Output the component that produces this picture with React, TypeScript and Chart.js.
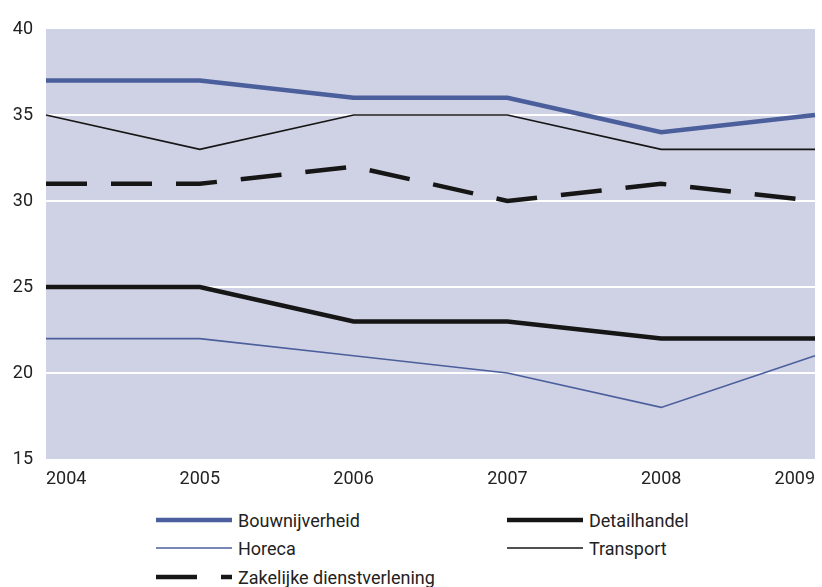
import React, { useEffect, useRef } from "react";
import { Chart, registerables } from "chart.js";

Chart.register(...registerables);

const years = ["2004", "2005", "2006", "2007", "2008", "2009"];
const bouwnijverheid = [37, 37, 36, 36, 34, 35];
const detailhandel = [25, 25, 23, 23, 22, 22];
const horeca = [22, 22, 21, 20, 18, 21];
const transport = [35, 33, 35, 35, 33, 33];
const zakelijke = [31, 31, 32, 30, 31, 30];

const BLUE = "#4b5f9c";
const BLACK = "#161616";
const FONT = "Roboto, 'Liberation Sans', Arial, sans-serif";

type Series = { label: string; data: number[]; color: string; width: number; dash: number[] };

const series: Series[] = [
  { label: "Bouwnijverheid", data: bouwnijverheid, color: BLUE, width: 4.5, dash: [] },
  { label: "Detailhandel", data: detailhandel, color: BLACK, width: 4.5, dash: [] },
  { label: "Horeca", data: horeca, color: BLUE, width: 1.6, dash: [] },
  { label: "Transport", data: transport, color: BLACK, width: 1.6, dash: [] },
  { label: "Zakelijke dienstverlening", data: zakelijke, color: BLACK, width: 4.5, dash: [41, 24] },
];

const bgPlugin = {
  id: "plotBg",
  beforeDraw(chart: any) {
    const { ctx, chartArea } = chart;
    if (!chartArea) return;
    ctx.save();
    ctx.fillStyle = "#cfd2e4";
    ctx.fillRect(chartArea.left, chartArea.top, chartArea.right - chartArea.left, chartArea.bottom - chartArea.top);
    ctx.restore();
  },
};

export default function App() {
  const ref = useRef<HTMLCanvasElement | null>(null);

  useEffect(() => {
    if (!ref.current) return;
    const chart = new Chart(ref.current, {
      type: "line",
      data: {
        labels: years,
        datasets: series.map((s) => ({
          label: s.label,
          data: s.data,
          borderColor: s.color,
          backgroundColor: s.color,
          borderWidth: s.width,
          borderDash: s.dash,
          pointRadius: 0,
          tension: 0,
          fill: false,
          borderCapStyle: "butt" as const,
          borderJoinStyle: "miter" as const,
        })),
      },
      options: {
        animation: false,
        responsive: false,
        maintainAspectRatio: false,
        layout: { padding: { top: 29, left: 13, right: 7, bottom: 11 } },
        plugins: { legend: { display: false }, tooltip: { enabled: false } },
        scales: {
          x: {
            type: "category",
            offset: false,
            grid: { display: false, drawTicks: false },
            border: { display: false },
            afterFit: (s: any) => {
              s.height = 30;
              s.paddingLeft = 0;
              s.paddingRight = 0;
            },
            ticks: {
              align: "inner",
              color: "#222",
              padding: 10,
              maxRotation: 0,
              autoSkip: false,
              font: { family: FONT, size: 18 },
            },
          },
          y: {
            min: 15,
            max: 40,
            afterFit: (s: any) => {
              s.width = 33;
            },
            grid: {
              drawTicks: false,
              color: (c: any) => (c.tick && (c.tick.value === 15 || c.tick.value === 40) ? "rgba(0,0,0,0)" : "#ffffff"),
              lineWidth: 2,
            },
            border: { display: false },
            ticks: {
              stepSize: 5,
              color: "#222",
              padding: 13,
              font: { family: FONT, size: 18 },
            },
          },
        },
      },
      plugins: [bgPlugin],
    });
    return () => chart.destroy();
  }, []);

  const legendPos = [
    { x: 156, y: 520 },
    { x: 507, y: 520 },
    { x: 156, y: 548 },
    { x: 507, y: 548 },
    { x: 156, y: 577 },
  ];

  return (
    <div style={{ position: "fixed", left: 0, top: 0, width: 822, height: 587, background: "#fff", overflow: "hidden" }}>
      <canvas ref={ref} width={822} height={500} style={{ position: "absolute", left: 0, top: 0, width: 822, height: 500 }} />
      {series.map((s, i) => (
        <div
          key={s.label}
          style={{
            position: "absolute",
            left: legendPos[i].x,
            top: legendPos[i].y - 12,
            height: 24,
            display: "flex",
            alignItems: "center",
            fontFamily: FONT,
            fontSize: 18,
            color: "#222",
            whiteSpace: "nowrap",
          }}
        >
          <svg width={76} height={8} style={{ display: "block", marginRight: 6 }}>
            <line
              x1={0}
              y1={4}
              x2={76}
              y2={4}
              stroke={s.color}
              strokeWidth={s.width}
              strokeDasharray={s.dash.length ? s.dash.join(" ") : undefined}
            />
          </svg>
          <span>{s.label}</span>
        </div>
      ))}
    </div>
  );
}
